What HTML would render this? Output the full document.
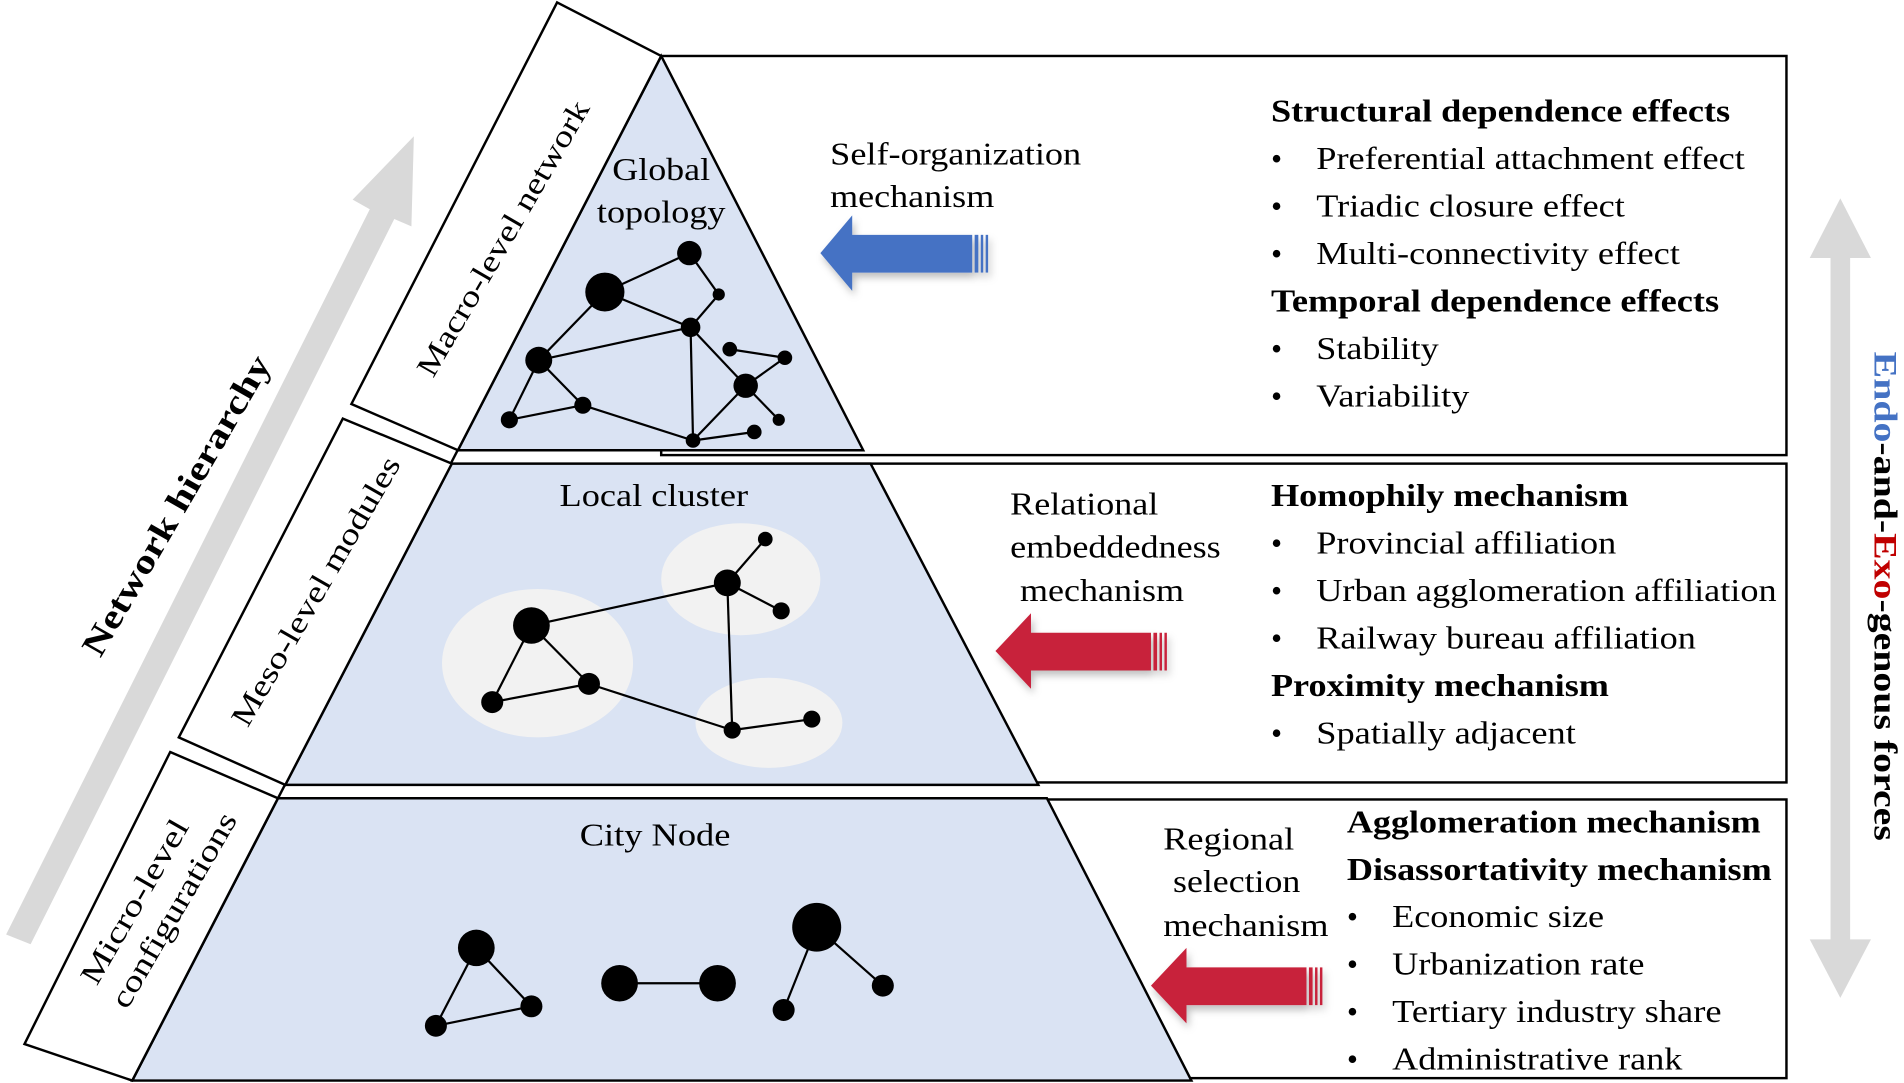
<!DOCTYPE html>
<html><head><meta charset="utf-8"><style>
html,body{margin:0;padding:0;background:#fff;}
svg{display:block;}
text{font-family:"Liberation Serif",serif;fill:#000;}
</style></head><body>
<svg width="1904" height="1083" viewBox="0 0 1555 890" preserveAspectRatio="none" xmlns="http://www.w3.org/2000/svg">
<defs>
<filter id="sh" x="-20%" y="-30%" width="140%" height="160%"><feDropShadow dx="2" dy="4" stdDeviation="3" flood-color="#000" flood-opacity="0.25"/></filter>
</defs>
<polygon points="5,768 302,172 288,164 338,112 336,186 322,180 25,776" fill="#d9d9d9"/>
<polygon points="1503,163 1528,212 1511,212 1511,772 1528,772 1503,820 1478,772 1495,772 1495,212 1478,212" fill="#d9d9d9"/>

<rect x="540" y="46" width="919" height="328" fill="#fff" stroke="#000" stroke-width="2"/>
<rect x="540" y="381" width="919" height="262" fill="#fff" stroke="#000" stroke-width="2"/>
<rect x="540" y="657" width="919" height="229" fill="#fff" stroke="#000" stroke-width="2"/>

<polygon points="540,46 705,370 374,370" fill="#dae3f3" stroke="#000" stroke-width="2"/>
<polygon points="369,381 711,381 848,645 233,645" fill="#dae3f3" stroke="#000" stroke-width="2"/>
<polygon points="227,656 855,656 973,888 108,888" fill="#dae3f3" stroke="#000" stroke-width="2"/>
<line x1="540" y1="46" x2="108" y2="888" stroke="#000" stroke-width="2"/>

<polygon points="455,2 540,46 374,370 287,332" fill="#fff" stroke="#000" stroke-width="2"/>
<polygon points="280,344 369,381 233,645 146,606" fill="#fff" stroke="#000" stroke-width="2"/>
<polygon points="139,618 227,656 108,888 20,858" fill="#fff" stroke="#000" stroke-width="2"/>

<text transform="translate(418,200) rotate(-60)" font-size="25" text-anchor="middle" textLength="257" lengthAdjust="spacingAndGlyphs">Macro-level network</text>
<text transform="translate(265,490) rotate(-60)" font-size="25" text-anchor="middle" textLength="251" lengthAdjust="spacingAndGlyphs">Meso-level modules</text>
<text transform="translate(117,745) rotate(-60)" font-size="25" text-anchor="middle" textLength="152" lengthAdjust="spacingAndGlyphs">Micro-level</text>
<text transform="translate(149,752) rotate(-60)" font-size="25" text-anchor="middle" textLength="181" lengthAdjust="spacingAndGlyphs">configurations</text>
<text transform="translate(152,420) rotate(-60)" font-size="28" font-weight="bold" text-anchor="middle" textLength="280" lengthAdjust="spacingAndGlyphs">Network hierarchy</text>

<text x="540" y="148" font-size="26" text-anchor="middle" textLength="80" lengthAdjust="spacingAndGlyphs">Global</text>
<text x="540" y="183" font-size="26" text-anchor="middle" textLength="105" lengthAdjust="spacingAndGlyphs">topology</text>
<text x="534" y="416" font-size="26" text-anchor="middle" textLength="154" lengthAdjust="spacingAndGlyphs">Local cluster</text>
<text x="535" y="695" font-size="26" text-anchor="middle" textLength="123" lengthAdjust="spacingAndGlyphs">City Node</text>

<g stroke="#000" stroke-width="1.8">
<line x1="494" y1="240" x2="563" y2="208"/><line x1="563" y1="208" x2="587" y2="242"/><line x1="587" y1="242" x2="564" y2="269"/>
<line x1="494" y1="240" x2="564" y2="269"/><line x1="494" y1="240" x2="440" y2="296"/><line x1="440" y1="296" x2="564" y2="269"/>
<line x1="440" y1="296" x2="416" y2="345"/><line x1="416" y1="345" x2="476" y2="333"/><line x1="440" y1="296" x2="476" y2="333"/>
<line x1="476" y1="333" x2="566" y2="362"/><line x1="564" y1="269" x2="566" y2="362"/><line x1="564" y1="269" x2="609" y2="317"/>
<line x1="596" y1="287" x2="641" y2="294"/><line x1="641" y1="294" x2="609" y2="317"/><line x1="609" y1="317" x2="636" y2="345"/>
<line x1="609" y1="317" x2="566" y2="362"/><line x1="566" y1="362" x2="616" y2="355"/>
</g>
<g fill="#000">
<circle cx="494" cy="240" r="16"/><circle cx="563" cy="208" r="10"/><circle cx="587" cy="242" r="5"/><circle cx="564" cy="269" r="8"/>
<circle cx="440" cy="296" r="11"/><circle cx="416" cy="345" r="7"/><circle cx="476" cy="333" r="7"/><circle cx="566" cy="362" r="6"/>
<circle cx="596" cy="287" r="6"/><circle cx="641" cy="294" r="6"/><circle cx="609" cy="317" r="10"/><circle cx="636" cy="345" r="5"/><circle cx="616" cy="355" r="6"/>
</g>

<ellipse cx="439" cy="545" rx="78" ry="61" fill="#f2f2f2"/>
<ellipse cx="605" cy="476" rx="65" ry="46" fill="#f2f2f2"/>
<ellipse cx="628" cy="594" rx="60" ry="37" fill="#f2f2f2"/>
<g stroke="#000" stroke-width="1.8">
<line x1="434" y1="514" x2="594" y2="479"/><line x1="434" y1="514" x2="402" y2="577"/><line x1="434" y1="514" x2="481" y2="562"/>
<line x1="402" y1="577" x2="481" y2="562"/><line x1="481" y1="562" x2="598" y2="600"/><line x1="594" y1="479" x2="598" y2="600"/>
<line x1="594" y1="479" x2="625" y2="443"/><line x1="594" y1="479" x2="638" y2="502"/><line x1="598" y1="600" x2="663" y2="591"/>
</g>
<g fill="#000">
<circle cx="434" cy="514" r="15"/><circle cx="402" cy="577" r="9"/><circle cx="481" cy="562" r="9"/><circle cx="594" cy="479" r="11"/>
<circle cx="625" cy="443" r="6"/><circle cx="638" cy="502" r="7"/><circle cx="598" cy="600" r="7"/><circle cx="663" cy="591" r="7"/>
</g>

<g stroke="#000" stroke-width="1.8">
<line x1="389" y1="779" x2="356" y2="843"/><line x1="389" y1="779" x2="434" y2="827"/><line x1="356" y1="843" x2="434" y2="827"/>
<line x1="506" y1="808" x2="586" y2="808"/><line x1="667" y1="762" x2="640" y2="830"/><line x1="667" y1="762" x2="721" y2="810"/>
</g>
<g fill="#000">
<circle cx="389" cy="779" r="15"/><circle cx="356" cy="843" r="9"/><circle cx="434" cy="827" r="9"/>
<circle cx="506" cy="808" r="15"/><circle cx="586" cy="808" r="15"/>
<circle cx="667" cy="762" r="20"/><circle cx="640" cy="830" r="9"/><circle cx="721" cy="810" r="9"/>
</g>

<g filter="url(#sh)">
<polygon points="670,208 696,177 696,193 794,193 794,224 696,224 696,239" fill="#4472c4"/>
<rect x="796" y="193" width="3" height="31" fill="#4472c4"/><rect x="801" y="193" width="2" height="31" fill="#4472c4"/><rect x="805" y="193" width="2" height="31" fill="#4472c4"/>
</g>
<g filter="url(#sh)">
<polygon points="813,535 842,504 842,520 940,520 940,551 842,551 842,566" fill="#c8203b"/>
<rect x="942" y="520" width="3" height="31" fill="#c8203b"/><rect x="947" y="520" width="2" height="31" fill="#c8203b"/><rect x="951" y="520" width="2" height="31" fill="#c8203b"/>
</g>
<g filter="url(#sh)">
<polygon points="940,810 969,779 969,795 1067,795 1067,826 969,826 969,841" fill="#c8203b"/>
<rect x="1069" y="795" width="3" height="31" fill="#c8203b"/><rect x="1074" y="795" width="2" height="31" fill="#c8203b"/><rect x="1078" y="795" width="2" height="31" fill="#c8203b"/>
</g>

<g font-size="26">
<text x="678" y="135" textLength="205" lengthAdjust="spacingAndGlyphs">Self-organization</text>
<text x="678" y="170" textLength="134" lengthAdjust="spacingAndGlyphs">mechanism</text>
<text x="825" y="423" textLength="121" lengthAdjust="spacingAndGlyphs">Relational</text>
<text x="825" y="458" textLength="172" lengthAdjust="spacingAndGlyphs">embeddedness</text>
<text x="833" y="494" textLength="134" lengthAdjust="spacingAndGlyphs">mechanism</text>
<text x="950" y="698" textLength="107" lengthAdjust="spacingAndGlyphs">Regional</text>
<text x="958" y="733" textLength="104" lengthAdjust="spacingAndGlyphs">selection</text>
<text x="950" y="769" textLength="135" lengthAdjust="spacingAndGlyphs">mechanism</text>
</g>

<g font-size="26">
<text x="1038" y="100" font-weight="bold" textLength="375" lengthAdjust="spacingAndGlyphs">Structural dependence effects</text>
<text x="1038" y="139">•</text><text x="1075" y="139" textLength="350" lengthAdjust="spacingAndGlyphs">Preferential attachment effect</text>
<text x="1038" y="178">•</text><text x="1075" y="178" textLength="252" lengthAdjust="spacingAndGlyphs">Triadic closure effect</text>
<text x="1038" y="217">•</text><text x="1075" y="217" textLength="297" lengthAdjust="spacingAndGlyphs">Multi-connectivity effect</text>
<text x="1038" y="256" font-weight="bold" textLength="366" lengthAdjust="spacingAndGlyphs">Temporal dependence effects</text>
<text x="1038" y="295">•</text><text x="1075" y="295" textLength="100" lengthAdjust="spacingAndGlyphs">Stability</text>
<text x="1038" y="334">•</text><text x="1075" y="334" textLength="125" lengthAdjust="spacingAndGlyphs">Variability</text>

<text x="1038" y="416" font-weight="bold" textLength="292" lengthAdjust="spacingAndGlyphs">Homophily mechanism</text>
<text x="1038" y="455">•</text><text x="1075" y="455" textLength="245" lengthAdjust="spacingAndGlyphs">Provincial affiliation</text>
<text x="1038" y="494">•</text><text x="1075" y="494" textLength="376" lengthAdjust="spacingAndGlyphs">Urban agglomeration affiliation</text>
<text x="1038" y="533">•</text><text x="1075" y="533" textLength="310" lengthAdjust="spacingAndGlyphs">Railway bureau affiliation</text>
<text x="1038" y="572" font-weight="bold" textLength="276" lengthAdjust="spacingAndGlyphs">Proximity mechanism</text>
<text x="1038" y="611">•</text><text x="1075" y="611" textLength="212" lengthAdjust="spacingAndGlyphs">Spatially adjacent</text>

<text x="1100" y="684" font-weight="bold" textLength="338" lengthAdjust="spacingAndGlyphs">Agglomeration mechanism</text>
<text x="1100" y="723" font-weight="bold" textLength="347" lengthAdjust="spacingAndGlyphs">Disassortativity mechanism</text>
<text x="1100" y="762">•</text><text x="1137" y="762" textLength="173" lengthAdjust="spacingAndGlyphs">Economic size</text>
<text x="1100" y="801">•</text><text x="1137" y="801" textLength="206" lengthAdjust="spacingAndGlyphs">Urbanization rate</text>
<text x="1100" y="840">•</text><text x="1137" y="840" textLength="269" lengthAdjust="spacingAndGlyphs">Tertiary industry share</text>
<text x="1100" y="879">•</text><text x="1137" y="879" textLength="237" lengthAdjust="spacingAndGlyphs">Administrative rank</text>
</g>

<text transform="translate(1531,490) rotate(90)" font-size="27" font-weight="bold" text-anchor="middle" textLength="402" lengthAdjust="spacingAndGlyphs"><tspan fill="#4472c4">Endo</tspan>-and-<tspan fill="#c00000">Exo</tspan>-genous forces</text>
</svg>
</body></html>
